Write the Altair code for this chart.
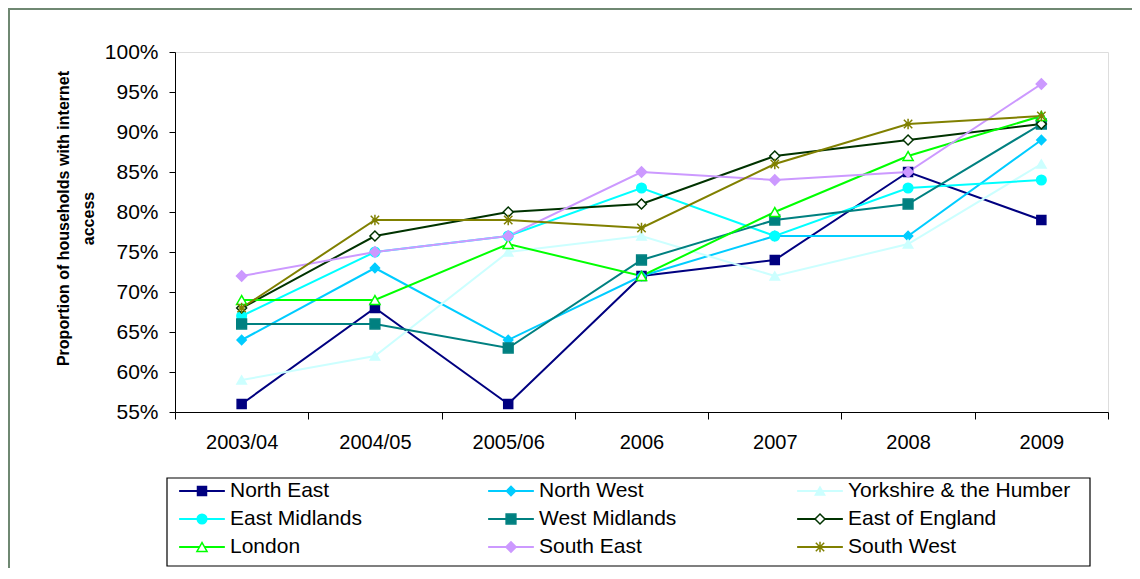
import altair as alt
import pandas as pd

periods = ["2003/04", "2004/05", "2005/06", "2006", "2007", "2008", "2009"]
regions = ["North East", "North West", "Yorkshire & the Humber",
           "East Midlands", "West Midlands", "East of England",
           "London", "South East", "South West"]

north_east = [56, 68, 56, 72, 74, 85, 79]
north_west = [64, 73, 64, 72, 77, 77, 89]
yorkshire = [59, 62, 75, 77, 72, 76, 86]
east_midlands = [67, 75, 77, 83, 77, 83, 84]
west_midlands = [66, 66, 63, 74, 79, 81, 91]
east_of_england = [68, 77, 80, 81, 87, 89, 91]
london = [69, 69, 76, 72, 80, 87, 92]
south_east = [72, 75, 77, 85, 84, 85, 96]
south_west = [68, 79, 79, 78, 86, 91, 92]

series = [north_east, north_west, yorkshire, east_midlands, west_midlands,
          east_of_england, london, south_east, south_west]

colors = ["#000080", "#00CCFF", "#CCFFFF", "#00FFFF", "#008080",
          "#003300", "#00FF00", "#CC99FF", "#808000"]
STAR = "M0,-1V1M-0.8,-0.8L0.8,0.8M-0.8,0.8L0.8,-0.8M-0.6,0H0.6"
shapes = ["square", "diamond", "triangle-up", "circle", "square",
          "diamond", "triangle-up", "diamond", STAR]
fills = ["#000080", "#00CCFF", "#CCFFFF", "#00FFFF", "#008080",
         "#FFFFFF", "#FFFFFF", "#CC99FF", "#808000"]
sizes = [81, 110, 110, 100, 81, 100, 110, 110, 100]

rows = []
for reg, vals in zip(regions, series):
    for p, v in zip(periods, vals):
        rows.append({"region": reg, "period": p, "value": v / 100.0})
df = pd.DataFrame(rows)

legend_df = pd.DataFrame({
    "region": regions,
    "col": [i % 3 for i in range(len(regions))],
    "row": [i // 3 for i in range(len(regions))],
})

FONT = "Liberation Sans"
color_scale = alt.Scale(domain=regions, range=colors)
shape_scale = alt.Scale(domain=regions, range=shapes)
fill_scale = alt.Scale(domain=regions, range=fills)
size_scale = alt.Scale(domain=regions, range=sizes)

base = alt.Chart(df).encode(
    x=alt.X("period:N", sort=periods,
            scale=alt.Scale(type="band", paddingInner=0, paddingOuter=0),
            axis=alt.Axis(title=None, labelAngle=0, tickBand="extent",
                          labelFontSize=20, labelColor="black",
                          domainColor="black", tickColor="black",
                          tickSize=7, labelPadding=13, labelFont=FONT)),
    y=alt.Y("value:Q",
            scale=alt.Scale(domain=[0.55, 1.0], nice=False, zero=False),
            axis=alt.Axis(values=[0.55, 0.6, 0.65, 0.7, 0.75, 0.8, 0.85, 0.9, 0.95, 1.0],
                          format=".0%", grid=False, labelFontSize=21,
                          labelColor="black", labelFont=FONT,
                          domainColor="black", tickColor="black", tickSize=6,
                          labelPadding=11,
                          title=["Proportion of households with internet", "access"],
                          titleFontSize=16, titleFontWeight="bold",
                          titleColor="black", titleFont=FONT,
                          titleAngle=270, titleX=-112, titleY=166,
                          titleBaseline="middle", titleAlign="center",
                          titleLineHeight=25)),
)

lines = base.mark_line(strokeWidth=2).encode(
    color=alt.Color("region:N", scale=color_scale, legend=None),
)
points = base.mark_point(filled=False, opacity=1, strokeWidth=1.5).encode(
    shape=alt.Shape("region:N", scale=shape_scale, legend=None),
    fill=alt.Fill("region:N", scale=fill_scale, legend=None),
    stroke=alt.Stroke("region:N", scale=color_scale, legend=None),
    size=alt.Size("region:N", scale=size_scale, legend=None),
)
main = alt.layer(lines, points)

one = alt.Data(values=[{"a": 1}])
frame_v = alt.Chart(one).mark_rule(color="#6F8872", strokeWidth=2).encode(
    x=alt.value(-166), y=alt.value(-43), y2=alt.value(700))
frame_h = alt.Chart(one).mark_rule(color="#6F8872", strokeWidth=2).encode(
    x=alt.value(-167), x2=alt.value(1100), y=alt.value(-43))
leg_box = alt.Chart(one).mark_rect(fill="white", stroke="black", strokeWidth=1.2).encode(
    x=alt.value(-8), x2=alt.value(915), y=alt.value(426), y2=alt.value(514))

lx = alt.Scale(domain=[0, 2], range=[27, 645])
ly = alt.Scale(domain=[0, 2], range=[439, 495])
leg = alt.Chart(legend_df)
leg_lines = leg.mark_rule(strokeWidth=2).transform_calculate(
    c0="datum.col - 0.074", c1="datum.col + 0.074").encode(
    x=alt.X("c0:Q", scale=lx, axis=None), x2="c1:Q",
    y=alt.Y("row:Q", scale=ly, axis=None),
    color=alt.Color("region:N", scale=color_scale, legend=None))
leg_points = leg.mark_point(filled=False, opacity=1, strokeWidth=1.5).encode(
    x=alt.X("col:Q", scale=lx, axis=None),
    y=alt.Y("row:Q", scale=ly, axis=None),
    shape=alt.Shape("region:N", scale=shape_scale, legend=None),
    fill=alt.Fill("region:N", scale=fill_scale, legend=None),
    stroke=alt.Stroke("region:N", scale=color_scale, legend=None),
    size=alt.Size("region:N", scale=size_scale, legend=None))
leg_text = leg.mark_text(align="left", baseline="middle", dx=28, fontSize=21,
                         font=FONT, color="black").encode(
    x=alt.X("col:Q", scale=lx, axis=None),
    y=alt.Y("row:Q", scale=ly, axis=None),
    text="region:N")

chart = alt.layer(frame_v, frame_h, leg_box, main, leg_lines, leg_points, leg_text).resolve_scale(
    x="independent", y="independent"
).properties(
    width=933, height=360,
    autosize=alt.AutoSizeParams(type="none"),
    padding={"left": 167, "top": 44, "right": 24, "bottom": 156},
).configure_view(stroke="black", strokeWidth=1.5).configure(font=FONT)

chart.save("out.html", embed_options={"renderer": "svg", "actions": False})
